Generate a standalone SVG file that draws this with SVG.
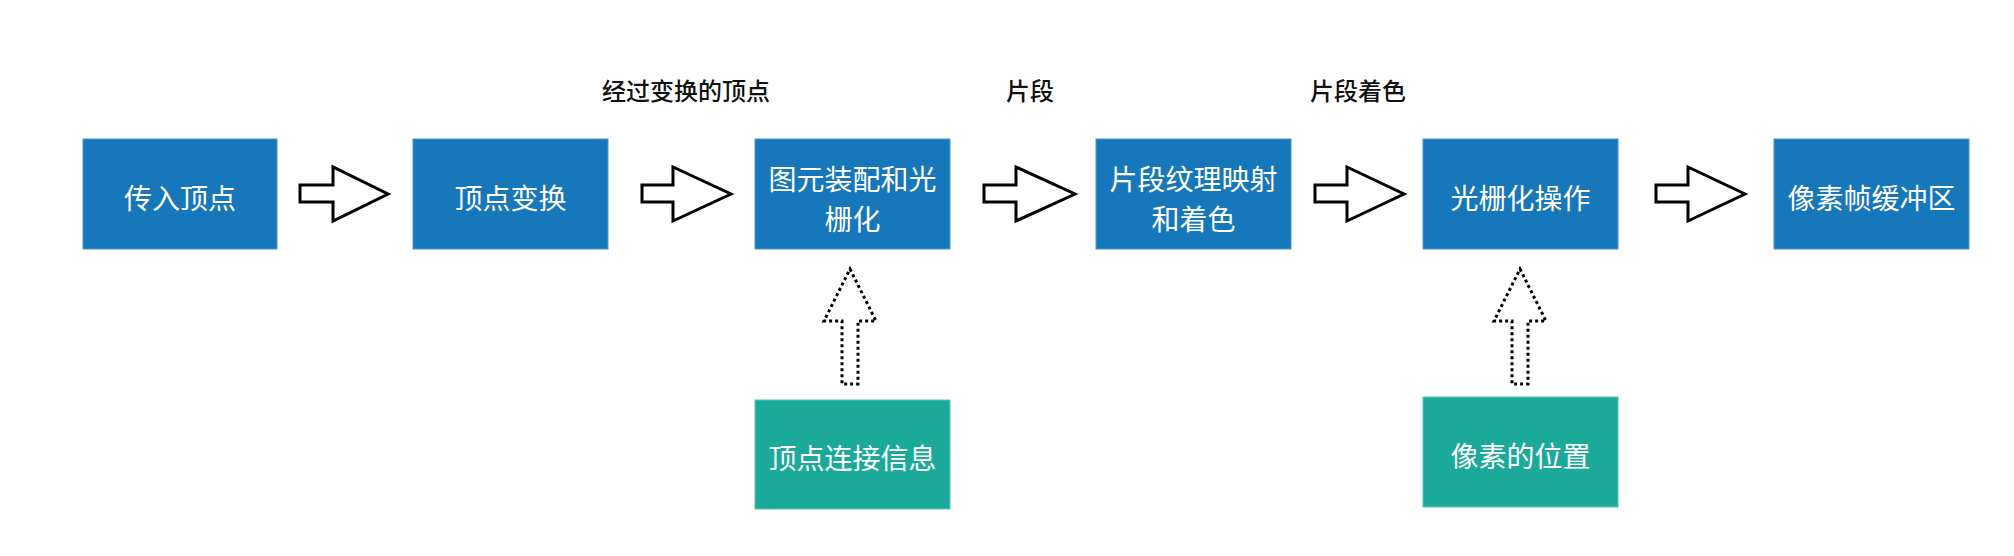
<svg xmlns="http://www.w3.org/2000/svg" width="2014" height="556" viewBox="0 0 2014 556">
<style>
.blue{fill:#1677BA;stroke:#4a98cd;stroke-width:1}
.teal{fill:#1BA99A;stroke:#5cc5b9;stroke-width:1}
.nt{font-family:"Noto Sans CJK SC","Noto Sans",sans-serif;font-size:28px;fill:#ffffff;text-anchor:middle;dominant-baseline:central}
.lb{font-family:"Noto Sans CJK SC","Noto Sans",sans-serif;font-size:24px;font-weight:500;fill:#111111;text-anchor:middle;dominant-baseline:central}
.arr{fill:#ffffff;stroke:#000000;stroke-width:3;stroke-linejoin:miter}
.darr{fill:none;stroke:#000000;stroke-width:3;stroke-dasharray:3 3}
</style>
<rect width="2014" height="556" fill="#ffffff"/>
<g id="labels">
<text class="lb" x="686" y="89">经过变换的顶点</text>
<text class="lb" x="1030" y="89">片段</text>
<text class="lb" x="1358" y="89">片段着色</text>
</g>
<g id="n1"><rect class="blue" x="83" y="139" width="194" height="110"/><text class="nt" x="180" y="197">传入顶点</text></g>
<g id="n2"><rect class="blue" x="413" y="139" width="195" height="110"/><text class="nt" x="510.5" y="197">顶点变换</text></g>
<g id="n3"><rect class="blue" x="755" y="139" width="195" height="110"/><text class="nt" x="852.5" y="178">图元装配和光</text><text class="nt" x="852.5" y="218">栅化</text></g>
<g id="n4"><rect class="blue" x="1096" y="139" width="195" height="110"/><text class="nt" x="1193.5" y="178">片段纹理映射</text><text class="nt" x="1193.5" y="218">和着色</text></g>
<g id="n5"><rect class="blue" x="1423" y="139" width="195" height="110"/><text class="nt" x="1520.5" y="197">光栅化操作</text></g>
<g id="n6"><rect class="blue" x="1774" y="139" width="195" height="110"/><text class="nt" x="1871.5" y="197">像素帧缓冲区</text></g>
<g id="n7"><rect class="teal" x="755" y="400" width="195" height="109"/><text class="nt" x="852.5" y="457">顶点连接信息</text></g>
<g id="n8"><rect class="teal" x="1423" y="397" width="195" height="110"/><text class="nt" x="1520.5" y="455">像素的位置</text></g>
<g id="connectors">
<path class="arr" d="M300,185 H333 V167 L388,194 L333,221 V202 H300 Z"/>
<path class="arr" d="M642,185 H673 V167 L731,194 L673,221 V202 H642 Z"/>
<path class="arr" d="M984,185 H1016 V167 L1075,194 L1016,221 V202 H984 Z"/>
<path class="arr" d="M1315,185 H1347 V167 L1404,194 L1347,221 V202 H1315 Z"/>
<path class="arr" d="M1656,185 H1688 V167 L1745,194 L1688,221 V202 H1656 Z"/>
<path class="darr" d="M850,269 L876,321 H858 V384 H842 V321 H824 Z"/>
<path class="darr" d="M1520,269 L1546,321 H1528 V384 H1512 V321 H1494 Z"/>
</g>
</svg>
